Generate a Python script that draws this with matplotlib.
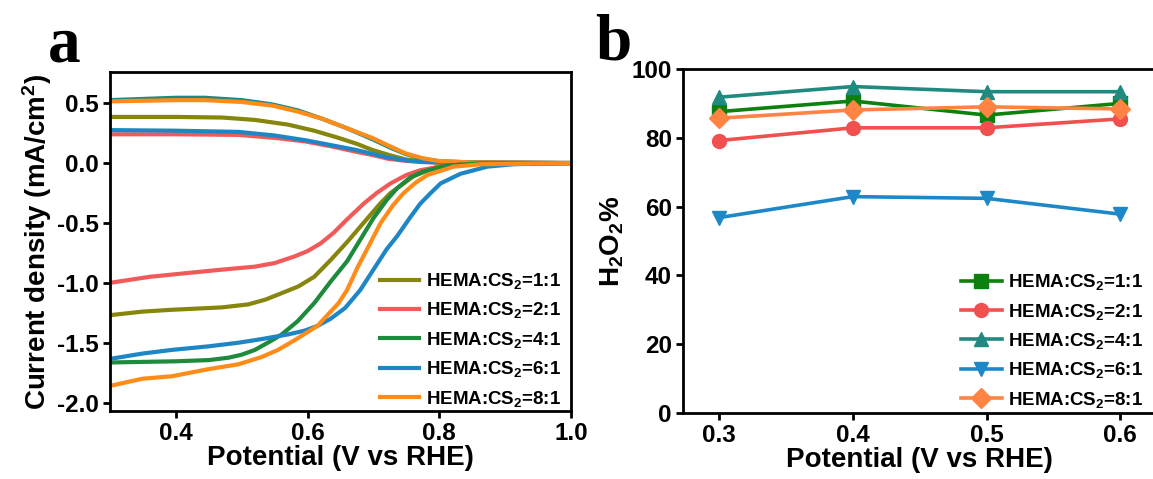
import matplotlib
matplotlib.use("Agg")
import matplotlib.pyplot as plt

plt.rcParams["font.family"] = ["Liberation Sans", "DejaVu Sans"]
plt.rcParams["font.weight"] = "bold"
plt.rcParams["axes.labelweight"] = "bold"
plt.rcParams["axes.unicode_minus"] = False
plt.rcParams["mathtext.fontset"] = "custom"
plt.rcParams["mathtext.rm"] = "Liberation Sans:bold"
plt.rcParams["mathtext.bf"] = "Liberation Sans:bold"
plt.rcParams["mathtext.default"] = "bf"

ratios = ["1:1", "2:1", "4:1", "6:1", "8:1"]
labels = ["HEMA:CS$_2$=" + r for r in ratios]

# --- panel a: RRDE polarisation curves (disk and ring) ---
disk_x = {
    "1:1": [0.30, 0.35, 0.394, 0.47, 0.51, 0.536, 0.559, 0.586, 0.61, 0.635, 0.66, 0.685, 0.71,
            0.726, 0.761, 0.797, 0.85, 1.0],
    "2:1": [0.30, 0.36, 0.414, 0.47, 0.52, 0.55, 0.58, 0.60, 0.62, 0.64, 0.66, 0.685, 0.705,
            0.726, 0.75, 0.771, 0.812, 0.86, 1.0],
    "4:1": [0.30, 0.35, 0.40, 0.45, 0.48, 0.50, 0.52, 0.546, 0.561, 0.585, 0.61, 0.635, 0.66,
            0.68, 0.70, 0.72, 0.736, 0.756, 0.776, 0.812, 0.86, 1.0],
    "6:1": [0.30, 0.35, 0.394, 0.45, 0.495, 0.53, 0.571, 0.595, 0.615, 0.635, 0.657, 0.68, 0.70,
            0.72, 0.736, 0.755, 0.771, 0.787, 0.802, 0.832, 0.873, 0.913, 1.0],
    "8:1": [0.30, 0.35, 0.394, 0.45, 0.495, 0.53, 0.555, 0.58, 0.615, 0.63, 0.647, 0.66, 0.676,
            0.695, 0.711, 0.73, 0.746, 0.765, 0.782, 0.822, 0.863, 1.0],
}
disk_j = {
    "1:1": [-1.27, -1.24, -1.225, -1.205, -1.18, -1.14, -1.09, -1.03, -0.95, -0.81, -0.66, -0.50,
            -0.34, -0.25, -0.11, -0.03, -0.005, 0.0],
    "2:1": [-1.00, -0.95, -0.92, -0.89, -0.865, -0.835, -0.78, -0.735, -0.67, -0.58, -0.47, -0.34,
            -0.25, -0.17, -0.10, -0.06, -0.02, -0.005, 0.0],
    "4:1": [-1.665, -1.66, -1.655, -1.645, -1.625, -1.60, -1.56, -1.48, -1.43, -1.32, -1.17, -0.99,
            -0.82, -0.64, -0.46, -0.31, -0.21, -0.12, -0.07, -0.02, -0.005, 0.0],
    "6:1": [-1.635, -1.59, -1.56, -1.53, -1.50, -1.47, -1.43, -1.40, -1.36, -1.30, -1.21, -1.06,
            -0.89, -0.72, -0.61, -0.46, -0.34, -0.25, -0.17, -0.09, -0.03, -0.01, 0.0],
    "8:1": [-1.86, -1.80, -1.78, -1.72, -1.68, -1.62, -1.56, -1.48, -1.36, -1.27, -1.17, -1.06,
            -0.87, -0.67, -0.50, -0.35, -0.25, -0.16, -0.10, -0.03, -0.01, 0.0],
}
ring_x = {
    "1:1": [0.30, 0.40, 0.47, 0.52, 0.571, 0.61, 0.647, 0.675, 0.698, 0.725, 0.749, 0.775, 0.80, 1.0],
    "2:1": [0.30, 0.40, 0.495, 0.55, 0.597, 0.635, 0.673, 0.70, 0.723, 0.75, 0.774, 0.82, 1.0],
    "4:1": [0.30, 0.35, 0.40, 0.444, 0.50, 0.546, 0.585, 0.622, 0.66, 0.698, 0.725, 0.749, 0.775,
            0.80, 0.85, 1.0],
    "6:1": [0.30, 0.40, 0.495, 0.55, 0.597, 0.635, 0.673, 0.70, 0.723, 0.75, 0.774, 0.82, 1.0],
    "8:1": [0.30, 0.35, 0.40, 0.444, 0.50, 0.546, 0.585, 0.622, 0.66, 0.698, 0.725, 0.749, 0.775,
            0.799, 0.85, 1.0],
}
ring_j = {
    "1:1": [0.385, 0.385, 0.38, 0.36, 0.32, 0.27, 0.21, 0.16, 0.11, 0.065, 0.03, 0.012, 0.005, 0.0],
    "2:1": [0.24, 0.24, 0.235, 0.21, 0.18, 0.14, 0.095, 0.065, 0.035, 0.018, 0.008, 0.002, 0.0],
    "4:1": [0.525, 0.535, 0.545, 0.545, 0.525, 0.49, 0.44, 0.37, 0.29, 0.20, 0.13, 0.075, 0.035,
            0.015, 0.005, 0.0],
    "6:1": [0.275, 0.27, 0.26, 0.23, 0.19, 0.15, 0.11, 0.075, 0.045, 0.022, 0.01, 0.003, 0.0],
    "8:1": [0.515, 0.52, 0.525, 0.525, 0.51, 0.48, 0.43, 0.37, 0.29, 0.21, 0.14, 0.08, 0.04,
            0.017, 0.005, 0.0],
}
colors_a = {"1:1": "#86860f", "2:1": "#f25a5a", "4:1": "#1d8a3c", "6:1": "#1f86c6", "8:1": "#ff8c19"}
ring_colors = dict(colors_a, **{"4:1": "#1a8a80"})

# --- panel b: H2O2 yield ---
pot_b = [0.3, 0.4, 0.5, 0.6]
h2o2 = {
    "1:1": [87.6, 90.7, 86.6, 90.0],
    "2:1": [79.2, 82.9, 82.9, 85.5],
    "4:1": [91.8, 94.9, 93.4, 93.4],
    "6:1": [56.8, 62.9, 62.4, 57.8],
    "8:1": [85.7, 88.1, 89.0, 88.4],
}
colors_b = {"1:1": "#0d800d", "2:1": "#f24f4f", "4:1": "#1f8a80", "6:1": "#1c88c8", "8:1": "#ff8444"}
markers_b = {"1:1": "s", "2:1": "o", "4:1": "^", "6:1": "v", "8:1": "D"}

fig = plt.figure(figsize=(11.53, 4.79), dpi=100)
W, H = 1153, 479
ax1 = fig.add_axes([110 / W, 1 - 411 / H, 461 / W, 339 / H])
ax2 = fig.add_axes([683 / W, 1 - 413 / H, 472 / W, 344 / H])

for r in ratios:
    ax1.plot(ring_x[r], ring_j[r], color=ring_colors[r], lw=3.0, label="_nolegend_")
for r, lab in zip(ratios, labels):
    ax1.plot(disk_x[r], disk_j[r], color=colors_a[r], lw=3.0, label=lab)

ax1.set_xlim(0.3, 1.0)
ax1.set_ylim(-2.07, 0.76)
ax1.set_xticks([0.4, 0.6, 0.8, 1.0])
ax1.set_yticks([0.5, 0.0, -0.5, -1.0, -1.5, -2.0])
ax1.set_xlabel("Potential (V vs RHE)", fontsize=20, labelpad=0)
ax1.set_ylabel("Current density (mA/cm$^2$)", fontsize=20, labelpad=2)
ax1.legend(loc="lower right", bbox_to_anchor=(570 / W, 1 - 418 / H),
           bbox_transform=fig.transFigure, frameon=False, fontsize=13.5,
           handlelength=2.1, handletextpad=0.35, labelspacing=0.5, borderpad=0.0)

for r, lab in zip(ratios, labels):
    ax2.plot(pot_b, h2o2[r], color=colors_b[r], marker=markers_b[r], ms=10, lw=2.6, label=lab)

ax2.set_xlim(0.273, 0.626)
ax2.set_ylim(0, 100)
ax2.set_xticks(pot_b)
ax2.set_yticks([0, 20, 40, 60, 80, 100])
ax2.set_xlabel("Potential (V vs RHE)", fontsize=20, labelpad=0)
ax2.set_ylabel("H$_2$O$_2$%", fontsize=20, labelpad=4)
ax2.legend(loc="lower right", bbox_to_anchor=(1152 / W, 1 - 419 / H),
           bbox_transform=fig.transFigure, frameon=False, fontsize=13.5,
           handlelength=2.2, handletextpad=0.3, labelspacing=0.5, borderpad=0.0)

for ax in (ax1, ax2):
    for s in ax.spines.values():
        s.set_linewidth(2.0)
    ax.tick_params(direction="out", length=5, width=2.0, labelsize=17.5, pad=3,
                   top=False, right=False)

fig.text(48 / W, 1 - 62 / H, "a", fontsize=47, fontweight="bold",
         family=["Liberation Serif", "DejaVu Serif"], ha="left", va="baseline")
fig.text(595 / W, 1 - 60 / H, "b", fontsize=47, fontweight="bold",
         family=["Liberation Serif", "DejaVu Serif"], ha="left", va="baseline")

fig.savefig("out.png", dpi=100, facecolor="white")
